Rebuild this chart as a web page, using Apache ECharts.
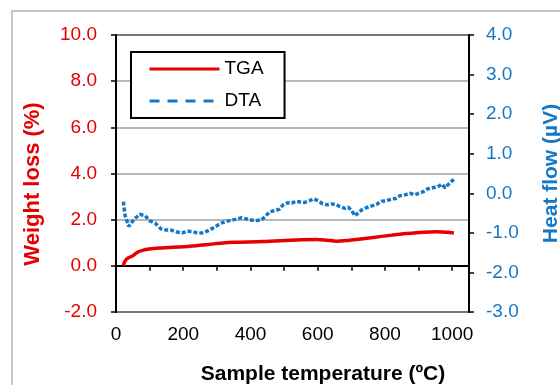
<!DOCTYPE html>
<html>
<head>
<meta charset="UTF-8">
<title>TGA / DTA</title>
<script src="https://cdn.jsdelivr.net/npm/echarts@6/dist/echarts.min.js"></script>
<style type="text/css">
	*{margin:0;padding:0;}
	body{background:#fff;}
	#main{width:560px;height:385px;}
</style>
</head>
<body>
<div id="main"></div>
<script type="text/javascript">
// TGA - weight loss (%) vs temperature
var tgaTemp = [22,26,35,50,64,79,99,129,159,198,238,278,317,352,438,537,597,627,656,691,716,765,815,865,914,954,984,1005];
var tgaLoss = [0.00,0.18,0.33,0.44,0.59,0.67,0.73,0.77,0.79,0.83,0.87,0.93,0.99,1.02,1.05,1.12,1.14,1.11,1.07,1.10,1.14,1.23,1.32,1.40,1.46,1.48,1.46,1.42];

// DTA - heat flow (uV) vs temperature
var dtaTemp = [22,26,28,38,48,57,71,87,99,117,134,149,164,181,196,213,228,243,258,273,288,302,317,337,354,374,389,404,419,433,446,456,473,486,496,510,523,535,549,562,575,587,602,615,628,641,654,666,681,691,701,711,721,731,746,761,775,790,805,820,833,845,860,874,889,904,914,926,942,956,969,979,989,998,1005];
var dtaFlow = [-0.21,-0.51,-0.59,-0.84,-0.72,-0.63,-0.53,-0.57,-0.69,-0.76,-0.90,-0.93,-0.93,-0.98,-1.00,-0.96,-0.97,-1.01,-1.00,-0.95,-0.88,-0.81,-0.74,-0.69,-0.66,-0.62,-0.65,-0.68,-0.69,-0.67,-0.57,-0.47,-0.44,-0.40,-0.30,-0.24,-0.25,-0.20,-0.22,-0.23,-0.19,-0.14,-0.19,-0.27,-0.29,-0.27,-0.28,-0.34,-0.38,-0.35,-0.44,-0.57,-0.49,-0.42,-0.36,-0.32,-0.28,-0.20,-0.19,-0.14,-0.13,-0.06,-0.04,0.00,-0.04,0.01,0.04,0.11,0.14,0.16,0.23,0.14,0.23,0.30,0.35];

var red = '#e60000';
var blue = '#1478c8';
var font = "Arial, 'Liberation Sans', sans-serif";

function pairs(xs, ys){
	var out = [];
	for(var i=0;i<xs.length;i++){ out.push([xs[i], ys[i]]); }
	return out;
}

var myChart = echarts.init(document.getElementById('main'));
var option = {
	animation: false,
	textStyle: {fontFamily: font},
	graphic: [{
		type: 'rect',
		shape: {x: 12, y: 11, width: 620, height: 420},
		style: {fill: 'none', stroke: '#b4b4b4', lineWidth: 1.5},
		silent: true
	}],
	grid: {
		left: 116, right: 91, top: 35, bottom: 73,
		outerBoundsMode: 'none',
		containLabel: false,
		show: true, borderColor: '#000', borderWidth: 2
	},
	legend: {
		orient: 'vertical',
		left: 131, top: 52,
		padding: [7, 21, 7, 17],
		itemGap: 12,
		itemWidth: 70, itemHeight: 14,
		borderColor: '#000', borderWidth: 2,
		backgroundColor: '#fff',
		textStyle: {fontSize: 19, color: '#000', fontFamily: font, lineHeight: 20},
		itemStyle: {opacity: 0},
		lineStyle: {width: 3},
		data: ['TGA', 'DTA']
	},
	xAxis: {
		type: 'value',
		min: 0, max: 1050, interval: 100,
		name: 'Sample temperature (ºC)',
		nameLocation: 'middle',
		nameGap: 52,
		nameTextStyle: {fontSize: 21, fontWeight: 'bold', color: '#000', fontFamily: font, padding: [0, 0, 0, 61]},
		axisLine: {lineStyle: {color: '#000', width: 2}},
		axisTick: {show: true, inside: false, length: 5, lineStyle: {color: '#000', width: 1.5}},
		axisLabel: {
			fontSize: 19, color: '#000', margin: 13, fontFamily: font,
			formatter: function(v){ return v % 200 === 0 ? String(v) : ''; }
		},
		splitLine: {show: false}
	},
	yAxis: [{
		type: 'value',
		position: 'left',
		min: -2, max: 10, interval: 2,
		name: 'Weight loss (%)',
		nameLocation: 'middle',
		nameRotate: 90,
		nameGap: 72,
		nameTextStyle: {fontSize: 22, fontWeight: 'bold', color: red, fontFamily: font, padding: [0, 21, 0, 0]},
		axisLine: {show: true, lineStyle: {color: '#000', width: 2}},
		axisTick: {show: true, length: 5, lineStyle: {color: '#000', width: 1.5}},
		axisLabel: {
			fontSize: 19, color: red, margin: 19, fontFamily: font,
			formatter: function(v){ return v.toFixed(1); }
		},
		splitLine: {show: true, lineStyle: {color: '#a0a0a0', width: 1.5}}
	}, {
		type: 'value',
		position: 'right',
		min: -3, max: 4, interval: 1,
		name: 'Heat flow (µV)',
		nameLocation: 'middle',
		nameRotate: 90,
		nameGap: 72,
		nameTextStyle: {fontSize: 21, fontWeight: 'bold', color: blue, fontFamily: font},
		axisLine: {show: true, lineStyle: {color: '#000', width: 2}},
		axisTick: {show: true, length: 5, lineStyle: {color: '#000', width: 1.5}},
		axisLabel: {
			fontSize: 19, color: blue, margin: 17, fontFamily: font,
			formatter: function(v){ return v.toFixed(1); }
		},
		splitLine: {show: false}
	}],
	series: [{
		name: 'TGA',
		type: 'line',
		yAxisIndex: 0,
		symbol: 'none',
		smooth: 0.3,
		color: red,
		lineStyle: {color: red, width: 3.5},
		data: pairs(tgaTemp, tgaLoss),
		z: 3
	}, {
		// legend entry only: carries the long dash pattern shown in the key
		name: 'DTA',
		type: 'line',
		yAxisIndex: 1,
		symbol: 'none',
		color: blue,
		lineStyle: {color: blue, width: 3, type: [10, 8]},
		data: []
	}, {
		name: 'DTA curve',
		type: 'line',
		yAxisIndex: 1,
		symbol: 'none',
		color: blue,
		lineStyle: {color: blue, width: 3.5, type: [4, 2]},
		data: pairs(dtaTemp, dtaFlow),
		z: 4
	}]
};
myChart.setOption(option);
</script>
</body>
</html>
